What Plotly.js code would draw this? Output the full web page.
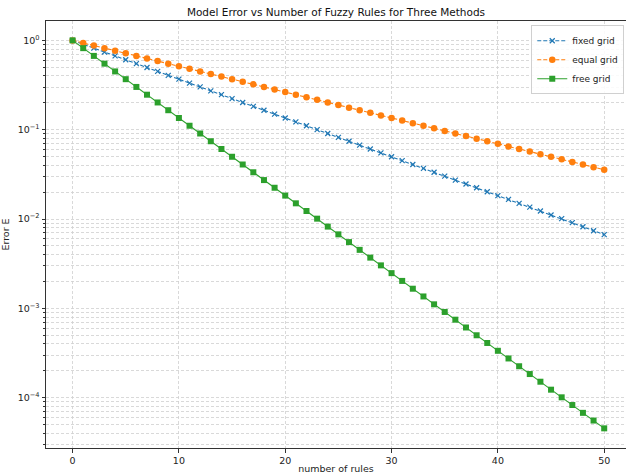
<!DOCTYPE html>
<html>
<head>
<meta charset="utf-8">
<script src="https://cdn.plot.ly/plotly-3.0.1.min.js"></script>
<style>html,body{margin:0;padding:0;background:#fff;}#chart{width:626px;height:474px;}</style>
</head>
<body>
<div id="chart"></div>
<script>
const rules = [0,1,2,3,4,5,6,7,8,9,10,11,12,13,14,15,16,17,18,19,20,21,22,23,24,25,26,27,28,29,30,31,32,33,34,35,36,37,38,39,40,41,42,43,44,45,46,47,48,49,50];
const fixedGrid = [1,0.9048,0.8187,0.7408,0.6703,0.6065,0.5488,0.4966,0.4493,0.4066,0.3679,0.3329,0.3012,0.2725,0.2466,0.2231,0.2019,0.1827,0.1653,0.1496,0.1353,0.1225,0.1108,0.1003,0.0907,0.0821,0.0743,0.0672,0.0608,0.0550,0.0498,0.0450,0.0408,0.0369,0.0334,0.0302,0.0273,0.0247,0.0224,0.0202,0.0183,0.0166,0.0150,0.0136,0.0123,0.0111,0.0101,0.0091,0.0082,0.0074,0.0067];
const equalGrid = [1,0.9355,0.8752,0.8187,0.7659,0.7165,0.6703,0.6271,0.5866,0.5488,0.5134,0.4803,0.4493,0.4204,0.3932,0.3679,0.3442,0.3220,0.3012,0.2818,0.2636,0.2466,0.2307,0.2158,0.2019,0.1889,0.1767,0.1653,0.1546,0.1447,0.1353,0.1266,0.1184,0.1108,0.1037,0.0970,0.0907,0.0849,0.0794,0.0743,0.0695,0.0650,0.0608,0.0569,0.0532,0.0498,0.0466,0.0436,0.0408,0.0381,0.0357];
const freeGrid = [1,0.8187,0.6703,0.5488,0.4493,0.3679,0.3012,0.2466,0.2019,0.1653,0.1353,0.1108,0.0907,0.0743,0.0608,0.0498,0.0408,0.0334,0.0273,0.0224,0.0183,0.0150,0.0123,0.0101,0.00823,0.00674,0.00552,0.00452,0.00370,0.00303,0.00248,0.00203,0.00166,0.00136,0.00111,0.000912,0.000747,0.000611,0.000500,0.000410,0.000335,0.000275,0.000225,0.000184,0.000151,0.000123,0.000101,0.0000828,0.0000677,0.0000555,0.0000454];
const xTicks = [0,10,20,30,40,50];
const yMajor = [1,0.1,0.01,0.001,0.0001];
const yMajorText = ['10<sup>0</sup>','10<sup>−1</sup>','10<sup>−2</sup>','10<sup>−3</sup>','10<sup>−4</sup>'];

const yMinor = [];
for (let e = -5; e <= 0; e++) {
  for (let m = 2; m <= 9; m++) {
    const v = m * Math.pow(10, e);
    if (v > 1.7 || v < 2.7e-5) continue;
    yMinor.push(v);
  }
}

const font = {family: 'DejaVu Sans', size: 9.5, color: '#222'};
const gridStyle = {gridcolor: '#cfcfcf', griddash: '3px,2px', gridwidth: 0.8};
const traces = [
  {x: rules, y: fixedGrid, name: 'fixed grid', type: 'scatter', mode: 'lines+markers',
   line: {color: '#1f77b4', width: 1.1, dash: '4px,2px'},
   marker: {symbol: 'x-thin', size: 5, line: {color: '#1f77b4', width: 1.2}, color: '#1f77b4'}},
  {x: rules, y: equalGrid, name: 'equal grid', type: 'scatter', mode: 'lines+markers',
   line: {color: '#ff7f0e', width: 1.1, dash: '4px,2px'},
   marker: {symbol: 'circle', size: 6.5, color: '#ff7f0e'}},
  {x: rules, y: freeGrid, name: 'free grid', type: 'scatter', mode: 'lines+markers',
   line: {color: '#2ca02c', width: 1.1},
   marker: {symbol: 'square', size: 6, color: '#2ca02c'}}
];
const layout = {
  width: 626, height: 474,
  margin: {l: 46, r: 0, t: 21, b: 26},
  paper_bgcolor: '#fff', plot_bgcolor: '#fff',
  font: font,
  showlegend: true,
  title: {text: 'Model Error vs Number of Fuzzy Rules for Three Methods', font: {family: 'DejaVu Sans', size: 10.5, color: '#111'}, x: 0.5, xref: 'paper', y: 1, yref: 'paper', yanchor: 'bottom', pad: {b: 5}},
  xaxis: Object.assign({
    range: [-2.5, 52.05], tickvals: xTicks, ticktext: xTicks.map(String),
    showgrid: true,
    zeroline: false, showline: true, linecolor: '#333', linewidth: 1, mirror: true,
    ticks: 'outside', ticklen: 3.5, tickcolor: '#333', tickfont: font,
    title: {text: 'number of rules', font: {family: 'DejaVu Sans', size: 9.5, color: '#222'}, standoff: 4}
  }, gridStyle),
  yaxis: Object.assign({
    type: 'log', range: [-4.563, 0.217], tickvals: yMajor, ticktext: yMajorText,
    showgrid: true,
    zeroline: false, showline: true, linecolor: '#333', linewidth: 1,
    ticks: 'outside', ticklen: 3.5, tickcolor: '#333', tickfont: font,
    minor: Object.assign({tickmode: 'array', tickvals: yMinor, ticks: 'outside', ticklen: 2, tickcolor: '#333', showgrid: true}, gridStyle),
    title: {text: 'Error E', font: {family: 'DejaVu Sans', size: 9.5, color: '#222'}, standoff: 10}
  }, gridStyle),
  legend: {
    x: 0.997, xanchor: 'right', y: 0.99, yanchor: 'top',
    bgcolor: 'rgba(255,255,255,0.85)', bordercolor: '#d0d0d0', borderwidth: 1,
    font: {family: 'DejaVu Sans', size: 9, color: '#222'}, tracegroupgap: 0, itemwidth: 30
  }
};
Plotly.newPlot('chart', traces, layout, {displayModeBar: false, staticPlot: true});
</script>
</body>
</html>
